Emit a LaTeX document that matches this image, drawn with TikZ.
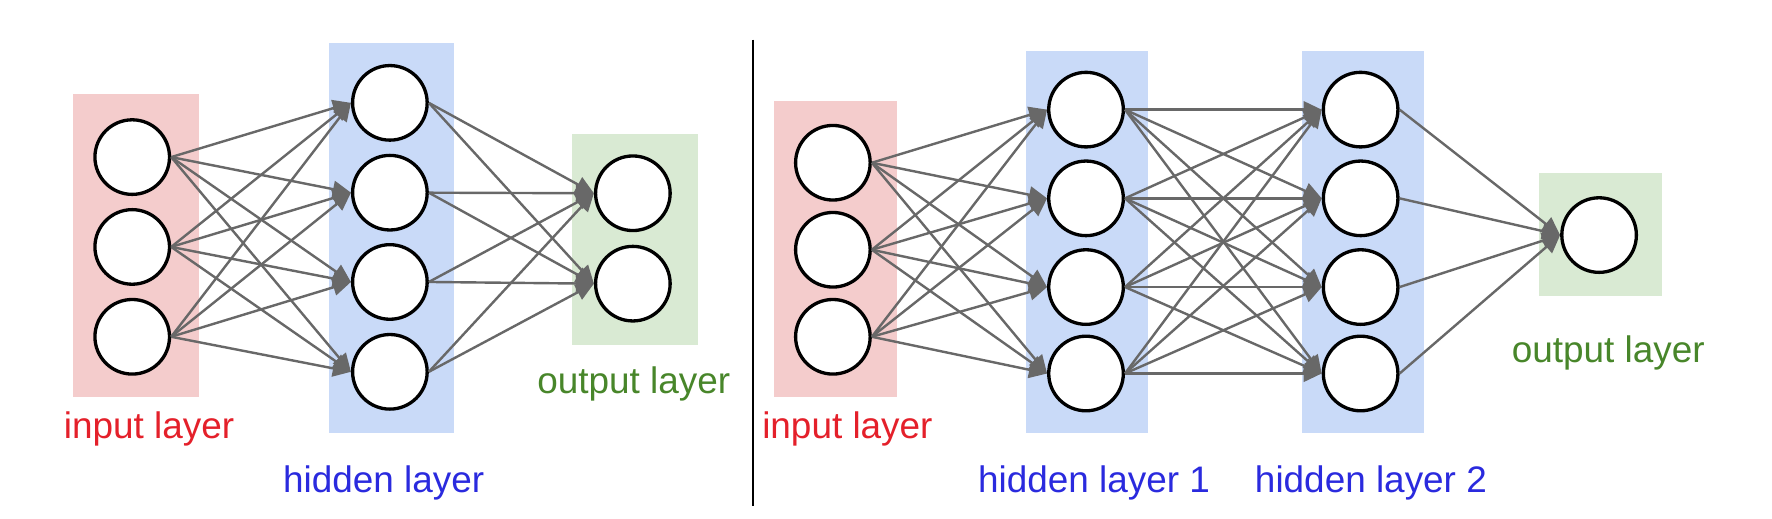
\documentclass[tikz,border=0pt]{standalone}
\usepackage{fontspec}
\setmainfont{Liberation Sans}
\usetikzlibrary{arrows.meta}

\definecolor{inbox}{RGB}{244,204,204}
\definecolor{hidbox}{RGB}{201,218,248}
\definecolor{outbox}{RGB}{217,234,211}
\definecolor{intext}{RGB}{228,32,42}
\definecolor{hidtext}{RGB}{42,42,222}
\definecolor{outtext}{RGB}{72,134,42}
\definecolor{wiregray}{RGB}{104,104,104}

\tikzset{every picture/.style={line width=0.75pt}}
\tikzset{
  neuron/.style={circle, draw=black, fill=white, line width=2.2pt, minimum size=49.5pt, inner sep=0pt},
  wire/.style={draw=wiregray, line width=1.6pt, -{Triangle[length=12pt,width=11pt]}},
  lbl/.style={font=\fontsize{24.5}{29}\selectfont, inner sep=0pt},
}

\begin{document}
\begin{tikzpicture}[x=0.75pt,y=0.75pt,yscale=-1,xscale=1]
\useasboundingbox (0,0) rectangle (1568,458.4);

%Shapes: layer boxes, left net
\fill[inbox]  (65,83) rectangle (176,351);
\fill[hidbox] (291,38) rectangle (402,383);
\fill[outbox] (506,119) rectangle (618,305);
%Shapes: layer boxes, right net
\fill[inbox]  (685,89) rectangle (794,351);
\fill[hidbox] (908,45) rectangle (1016,383);
\fill[hidbox] (1152,45) rectangle (1260,383);
\fill[outbox] (1362,153) rectangle (1471,262);

%Divider
\draw[line width=1.3pt] (666,35) -- (666,448);

%Neurons, left net
\foreach \i/\y in {1/139,2/218.5,3/298}
  \node[neuron] (a-in\i) at (117,\y) {};
\foreach \i/\y in {1/91,2/170.5,3/249.5,4/329}
  \node[neuron] (a-hid\i) at (345,\y) {};
\foreach \i/\y in {1/171,2/251}
  \node[neuron] (a-out\i) at (560,\y) {};

%Neurons, right net
\foreach \i/\y in {1/144,2/221,3/298}
  \node[neuron] (b-in\i) at (737,\y) {};
\foreach \i/\y in {1/97,2/175.5,3/254,4/330.5} {
  \node[neuron] (b-hida\i) at (961,\y) {};
  \node[neuron] (b-hidb\i) at (1204,\y) {};
}
\node[neuron] (b-out) at (1415,208) {};

%Connections, left net
\foreach \i in {1,...,3}
  \foreach \j in {1,...,4}
    \draw[wire] (a-in\i.east) -- (a-hid\j.west);
\foreach \i in {1,...,4}
  \foreach \j in {1,2}
    \draw[wire] (a-hid\i.east) -- (a-out\j.west);

%Connections, right net
\foreach \i in {1,...,3}
  \foreach \j in {1,...,4}
    \draw[wire] (b-in\i.east) -- (b-hida\j.west);
\foreach \i in {1,...,4}
  \foreach \j in {1,...,4}
    \draw[wire] (b-hida\i.east) -- (b-hidb\j.west);
\foreach \i in {1,...,4}
  \draw[wire] (b-hidb\i.east) -- (b-out.west);

% Text Nodes
\node[lbl, anchor=base west, text=intext] (a-inlbl) at (56,388) {input layer};
\node[lbl, anchor=base east, text=hidtext] (a-hidlbl) at (429,436) {hidden layer};
\node[lbl, anchor=base west, text=outtext] (a-outlbl) at (475,348) {output layer};
\node[lbl, anchor=base west, text=intext] (b-inlbl) at (674,388) {input layer};
\node[lbl, anchor=base west, text=hidtext] (b-hidalbl) at (865,436) {hidden layer 1};
\node[lbl, anchor=base west, text=hidtext] (b-hidblbl) at (1110,436) {hidden layer 2};
\node[lbl, anchor=base east, text=outtext] (b-outlbl) at (1509,321) {output layer};

\end{tikzpicture}
\end{document}
